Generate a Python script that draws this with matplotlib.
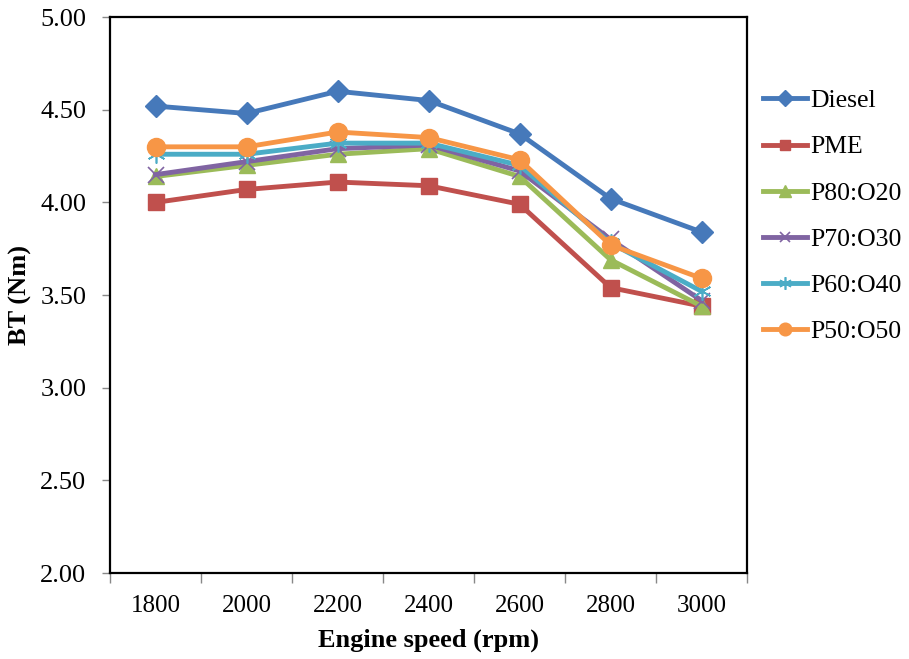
import numpy as np
import matplotlib
matplotlib.use('Agg')
import matplotlib.pyplot as plt

speeds = ['1800', '2000', '2200', '2400', '2600', '2800', '3000']
diesel = [4.52, 4.48, 4.60, 4.55, 4.37, 4.02, 3.84]
pme = [4.00, 4.07, 4.11, 4.09, 3.99, 3.54, 3.44]
p80 = [4.14, 4.20, 4.26, 4.29, 4.14, 3.69, 3.44]
p70 = [4.15, 4.22, 4.29, 4.31, 4.17, 3.80, 3.47]
p60 = [4.26, 4.26, 4.32, 4.32, 4.20, 3.78, 3.52]
p50 = [4.30, 4.30, 4.38, 4.35, 4.23, 3.77, 3.59]

plt.rcParams['font.family'] = 'Liberation Serif'

x = np.arange(len(speeds))

fig = plt.figure(figsize=(9.09, 6.59), dpi=100)
ax = fig.add_axes([0.121, 0.1305, 0.701, 0.8435])

lw = 3.5
ax.plot(x, diesel, color='#4679BA', lw=lw, marker='D', ms=11, label='Diesel')
ax.plot(x, pme, color='#C0504D', lw=lw, marker='s', ms=11, label='PME')
ax.plot(x, p80, color='#9BBB59', lw=lw, marker='^', ms=12, label='P80:O20')
ax.plot(x, p70, color='#8064A2', lw=lw, marker='x', ms=11, mew=1.2, label='P70:O30')
ax.plot(x, p60, color='#4BACC6', lw=lw, marker=(6, 2, 0), ms=13, mew=1.2, label='P60:O40')
ax.plot(x, p50, color='#F79646', lw=lw, marker='o', ms=13, label='P50:O50')

ax.set_xlim(-0.5, len(speeds) - 0.5)
ax.set_ylim(2.0, 5.0)
ax.set_yticks(np.arange(2.0, 5.01, 0.5))
ax.set_yticklabels(['%.2f' % v for v in np.arange(2.0, 5.01, 0.5)])
ax.set_xticks(x)
ax.set_xticklabels(speeds)
ax.set_xticks(np.arange(-0.5, len(speeds)), minor=True)
ax.tick_params(axis='x', which='major', length=0, pad=16, labelsize=18)
ax.tick_params(axis='x', which='minor', length=7, width=1, color='#888888')
ax.tick_params(axis='y', length=6, width=1, color='#888888', pad=11, labelsize=19)

for s in ax.spines.values():
    s.set_linewidth(1.6)
    s.set_color('black')

ax.set_xlabel('Engine speed (rpm)', fontsize=19, fontweight='bold', labelpad=8)
ax.set_ylabel('BT (Nm)', fontsize=19, fontweight='bold', labelpad=6)

ax.legend(loc='upper left', bbox_to_anchor=(1.025, 0.870), frameon=False,
          fontsize=18.5, handlelength=1.7, handletextpad=0.15, labelspacing=0.9,
          markerscale=0.7, borderaxespad=0, borderpad=0)

plt.savefig('out.png', dpi=100)
